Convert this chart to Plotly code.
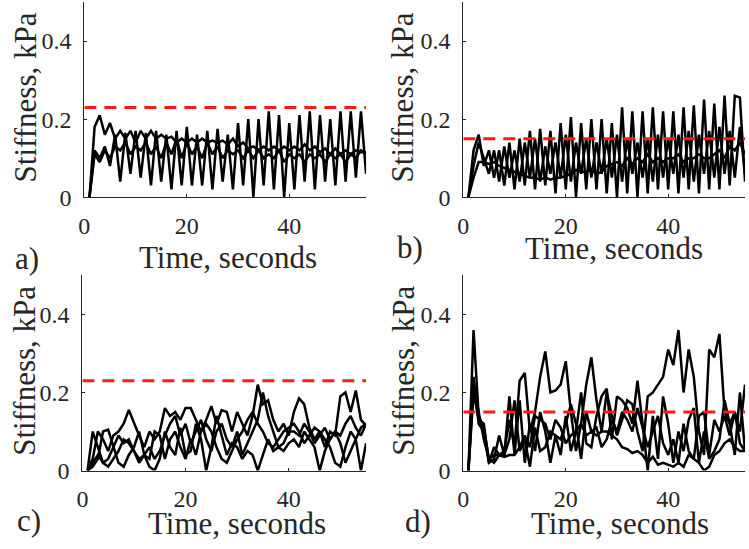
import plotly.graph_objects as go

# ---- data (t = 1..55 s) ----
TIME = list(range(1, 56))
X_TICKS = [0, 20, 40]
Y_TICKS = [0, 0.2, 0.4]
Y_TICK_TEXT = ["0", "0.2", "0.4"]
PANEL_LABELS = ["a)", "b)", "c)", "d)"]
THRESHOLDS = [0.23, 0.15, 0.23, 0.15]

a1 = [0, 0.18, 0.21, 0.16, 0.19, 0.15, 0.17, 0.15, 0.17, 0.14, 0.17, 0.15, 0.17, 0.15, 0.16,
      0.15, 0.155, 0.14, 0.15, 0.14, 0.15, 0.14, 0.15, 0.14, 0.145, 0.14, 0.145, 0.135, 0.15, 0.13,
      0.14, 0.125, 0.13, 0.12, 0.13, 0.12, 0.13, 0.12, 0.13, 0.12, 0.13, 0.12, 0.135, 0.12, 0.13,
      0.115, 0.125, 0.11, 0.125, 0.11, 0.12, 0.11, 0.12, 0.115, 0.115]
a2 = [0, 0.12, 0.10, 0.13, 0.08, 0.16, 0.04, 0.165, 0.06, 0.17, 0.05, 0.165, 0.03, 0.17, 0.04,
      0.16, 0.02, 0.17, 0.03, 0.18, 0.03, 0.16, 0.03, 0.17, 0.02, 0.175, 0.04, 0.16, 0.02, 0.19,
      0.03, 0.20, 0.0, 0.20, 0.03, 0.22, 0.02, 0.21, 0.0, 0.19, 0.02, 0.21, 0.04, 0.22, 0.02,
      0.21, 0.04, 0.20, 0.03, 0.22, 0.04, 0.22, 0.05, 0.22, 0.06]
a3 = [0, 0.11, 0.09, 0.12, 0.10, 0.13, 0.12, 0.14, 0.11, 0.13, 0.12, 0.14, 0.11, 0.13, 0.10,
      0.14, 0.11, 0.15, 0.10, 0.14, 0.11, 0.13, 0.10, 0.14, 0.11, 0.13, 0.10, 0.12, 0.11, 0.12,
      0.10, 0.12, 0.10, 0.12, 0.10, 0.11, 0.10, 0.12, 0.09, 0.11, 0.10, 0.11, 0.09, 0.11, 0.10,
      0.11, 0.09, 0.11, 0.10, 0.11, 0.09, 0.11, 0.10, 0.12, 0.11]

b1 = [0, 0.12, 0.16, 0.08, 0.12, 0.05, 0.12, 0.03, 0.14, 0.02, 0.15, 0.03, 0.17, 0.02, 0.175,
      0.03, 0.17, 0.01, 0.19, 0.02, 0.205, 0.0, 0.19, 0.02, 0.20, 0.02, 0.20, 0.01, 0.19, 0.0,
      0.23, 0.01, 0.22, 0.0, 0.22, 0.01, 0.23, 0.02, 0.22, 0.02, 0.22, 0.01, 0.23, 0.02, 0.235,
      0.01, 0.25, 0.02, 0.24, 0.02, 0.26, 0.03, 0.26, 0.255, 0.04]
b2 = [0, 0.08, 0.14, 0.10, 0.06, 0.12, 0.04, 0.13, 0.05, 0.12, 0.04, 0.14, 0.05, 0.15, 0.04,
      0.13, 0.06, 0.14, 0.05, 0.16, 0.04, 0.14, 0.06, 0.15, 0.05, 0.14, 0.06, 0.15, 0.05, 0.16,
      0.04, 0.15, 0.06, 0.14, 0.05, 0.15, 0.04, 0.16, 0.05, 0.15, 0.06, 0.16, 0.05, 0.17, 0.04,
      0.16, 0.06, 0.17, 0.05, 0.18, 0.06, 0.17, 0.05, 0.18, 0.06]
b3 = [0, 0.05, 0.09, 0.09, 0.085, 0.09, 0.08, 0.075, 0.07, 0.065, 0.06, 0.055, 0.05, 0.05, 0.045,
      0.05, 0.045, 0.05, 0.05, 0.055, 0.06, 0.07, 0.065, 0.065, 0.07, 0.06, 0.065, 0.08, 0.085, 0.09,
      0.08, 0.10, 0.085, 0.10, 0.09, 0.11, 0.09, 0.10, 0.09, 0.10, 0.10, 0.11, 0.09, 0.10, 0.10,
      0.11, 0.10, 0.10, 0.11, 0.12, 0.10, 0.13, 0.12, 0.14, 0.11]

c1 = [0, 0.03, 0.10, 0.08, 0.05, 0.09, 0.10, 0.12, 0.155, 0.12, 0.09, 0.06, 0.10, 0.08, 0.10,
      0.16, 0.14, 0.15, 0.13, 0.16, 0.16, 0.13, 0.10, 0.13, 0.165, 0.12, 0.155, 0.15, 0.10, 0.15,
      0.12, 0.09, 0.14, 0.22, 0.17, 0.18, 0.13, 0.10, 0.12, 0.09, 0.15, 0.185, 0.17, 0.11, 0.08,
      0.10, 0.06, 0.10, 0.09, 0.19, 0.20, 0.15, 0.205, 0.13, 0.115]
c2 = [0, 0.10, 0.06, 0.02, 0.01, 0.03, 0.05, 0.08, 0.07, 0.05, 0.03, 0.04, 0.06, 0.03, 0.05,
      0.09, 0.12, 0.14, 0.09, 0.12, 0.07, 0.10, 0.13, 0.08, 0.05, 0.10, 0.12, 0.08, 0.06, 0.10,
      0.04, 0.07, 0.10, 0.13, 0.20, 0.14, 0.10, 0.06, 0.07, 0.10, 0.10, 0.09, 0.12, 0.10, 0.07,
      0.09, 0.11, 0.08, 0.10, 0.09, 0.12, 0.14, 0.11, 0.09, 0.12]
c3 = [0, 0.01, 0.03, 0.10, 0.105, 0.06, 0.02, 0.01, 0.04, 0.06, 0.10, 0.04, 0.01, 0.0, 0.03,
      0.10, 0.06, 0.04, 0.11, 0.04, 0.05, 0.12, 0.08, 0.0, 0.06, 0.14, 0.09, 0.04, 0.07, 0.06,
      0.03, 0.05, 0.04, 0.0, 0.04, 0.08, 0.05, 0.06, 0.05, 0.07, 0.08, 0.06, 0.10, 0.08, 0.06,
      0.0, 0.05, 0.08, 0.10, 0.07, 0.02, 0.05, 0.08, 0.0, 0.07]
c4 = [0, 0.02, 0.04, 0.02, 0.03, 0.06, 0.09, 0.07, 0.08, 0.05, 0.02, 0.04, 0.03, 0.10, 0.09,
      0.03, 0.08, 0.10, 0.06, 0.03, 0.08, 0.04, 0.10, 0.12, 0.10, 0.06, 0.03, 0.02, 0.05, 0.08,
      0.10, 0.13, 0.15, 0.12, 0.10, 0.07, 0.06, 0.08, 0.10, 0.11, 0.12, 0.10, 0.07, 0.09, 0.11,
      0.10, 0.08, 0.06, 0.02, 0.01, 0.06, 0.10, 0.08, 0.11, 0.12]

d1 = [0, 0.36, 0.14, 0.11, 0.03, 0.02, 0.04, 0.05, 0.13, 0.06, 0.23, 0.25, 0.10, 0.15, 0.24,
      0.305, 0.20, 0.205, 0.22, 0.28, 0.15, 0.05, 0.12, 0.22, 0.29, 0.18, 0.10, 0.20, 0.14, 0.09,
      0.13, 0.18, 0.17, 0.10, 0.05, 0.19, 0.20, 0.22, 0.24, 0.31, 0.27, 0.36, 0.20, 0.31, 0.24,
      0.10, 0.04, 0.31, 0.29, 0.35, 0.15, 0.12, 0.15, 0.10, 0.22]
d2 = [0, 0.24, 0.12, 0.10, 0.02, 0.03, 0.09, 0.04, 0.19, 0.04, 0.18, 0.02, 0.12, 0.05, 0.15,
      0.10, 0.02, 0.09, 0.04, 0.14, 0.05, 0.10, 0.20, 0.07, 0.06, 0.14, 0.19, 0.21, 0.08, 0.19,
      0.18, 0.16, 0.12, 0.23, 0.12, 0.0, 0.14, 0.03, 0.19, 0.12, 0.02, 0.10, 0.05, 0.13, 0.16,
      0.02, 0.10, 0.03, 0.05, 0.08, 0.18, 0.12, 0.04, 0.20, 0.05]
d3 = [0, 0.20, 0.13, 0.12, 0.02, 0.06, 0.04, 0.04, 0.08, 0.18, 0.05, 0.08, 0.01, 0.11, 0.05,
      0.06, 0.10, 0.09, 0.08, 0.12, 0.17, 0.12, 0.03, 0.15, 0.10, 0.11, 0.06, 0.08, 0.13, 0.10,
      0.15, 0.13, 0.10, 0.16, 0.11, 0.06, 0.10, 0.14, 0.07, 0.04, 0.08, 0.02, 0.12, 0.05, 0.03,
      0.14, 0.15, 0.04, 0.13, 0.10, 0.14, 0.09, 0.15, 0.07, 0.05]
d4 = [0, 0.22, 0.15, 0.08, 0.03, 0.04, 0.04, 0.035, 0.04, 0.04, 0.06, 0.09, 0.06, 0.14, 0.13,
      0.12, 0.08, 0.13, 0.11, 0.07, 0.09, 0.10, 0.12, 0.09, 0.10, 0.09, 0.10, 0.10, 0.09, 0.08,
      0.06, 0.055, 0.045, 0.05, 0.04, 0.02, 0.035, 0.015, 0.02, 0.015, 0.01, 0.02, 0.01, 0.04, 0.03,
      0.02, 0.0, 0.01, 0.04, 0.05, 0.07, 0.08, 0.06, 0.05, 0.05]

PANELS = [[a1, a2, a3], [b1, b2, b3], [c1, c2, c3, c4], [d1, d2, d3, d4]]
X_MAX = 55
Y_MAX = 0.5

# ---- layout geometry (pixels) ----
W, H = 749, 549
# plot areas: (left, right, top, bottom)
AREAS = [(79, 363, 2, 202), (461, 745, 2, 202), (77, 363, 282, 482), (461, 745, 282, 482)]
YLAB_POS = [(20, 100), (400, 100), (18, 380), (400, 380)]
XLAB_POS = [(224, 264), (613, 255), (233, 536), (619, 536)]
TAG_POS = [(21, 265), (407, 254), (23, 533), (415, 534)]

FONT = "Liberation Serif"
TICK_FONT = "Times New Roman"
TXT = "#262626"
TICK_SIZE = 24
LABEL_SIZE = 31

fig = go.Figure()
annotations = []
for i, series in enumerate(PANELS):
    n = "" if i == 0 else str(i + 1)
    xa, ya = "x" + n, "y" + n
    for s in series:
        fig.add_trace(go.Scatter(x=TIME[:len(s)], y=s, mode="lines", xaxis=xa, yaxis=ya,
                                 line=dict(color="black", width=2.5), showlegend=False,
                                 hoverinfo="skip"))
    fig.add_trace(go.Scatter(x=[0, X_MAX], y=[THRESHOLDS[i]] * 2, mode="lines", xaxis=xa, yaxis=ya,
                             line=dict(color="#ff1a1a", width=3, dash="12px,8px"),
                             showlegend=False, hoverinfo="skip"))
    l, r, t, b = AREAS[i]
    fig.layout["xaxis" + n] = dict(
        domain=[l / W, r / W], anchor=ya, range=[0, X_MAX], tickvals=X_TICKS,
        ticks="inside", ticklen=3, tickcolor=TXT, showline=True, linecolor=TXT, linewidth=1,
        showgrid=False, zeroline=False, tickfont=dict(family=TICK_FONT, size=TICK_SIZE, color=TXT),
        ticklabelstandoff=7)
    fig.layout["yaxis" + n] = dict(
        domain=[1 - b / H, 1 - t / H], anchor=xa, range=[0, Y_MAX], tickvals=Y_TICKS,
        ticktext=Y_TICK_TEXT, ticks="inside", ticklen=3, tickcolor=TXT, showline=True,
        linecolor=TXT, linewidth=1, showgrid=False, zeroline=False,
        tickfont=dict(family=TICK_FONT, size=TICK_SIZE, color=TXT), ticklabelstandoff=7)
    px, py = YLAB_POS[i]
    annotations.append(dict(text="Stiffness, kPa", x=px / W, y=1 - py / H, xref="paper", yref="paper",
                            textangle=-90, showarrow=False, xanchor="center", yanchor="middle",
                            font=dict(family=FONT, size=LABEL_SIZE, color=TXT)))
    px, py = XLAB_POS[i]
    annotations.append(dict(text="Time, seconds", x=px / W, y=1 - py / H, xref="paper", yref="paper",
                            showarrow=False, xanchor="center", yanchor="middle",
                            font=dict(family=FONT, size=LABEL_SIZE, color=TXT)))
    px, py = TAG_POS[i]
    annotations.append(dict(text=PANEL_LABELS[i], x=px / W, y=1 - py / H, xref="paper", yref="paper",
                            showarrow=False, xanchor="center", yanchor="middle",
                            font=dict(family=FONT, size=LABEL_SIZE, color=TXT)))

fig.update_layout(width=W, height=H, margin=dict(l=0, r=0, t=0, b=0),
                  paper_bgcolor="white", plot_bgcolor="white", annotations=annotations)
fig.write_html("out.html", config={"displayModeBar": False},
               post_script="document.body.style.margin='0';")
